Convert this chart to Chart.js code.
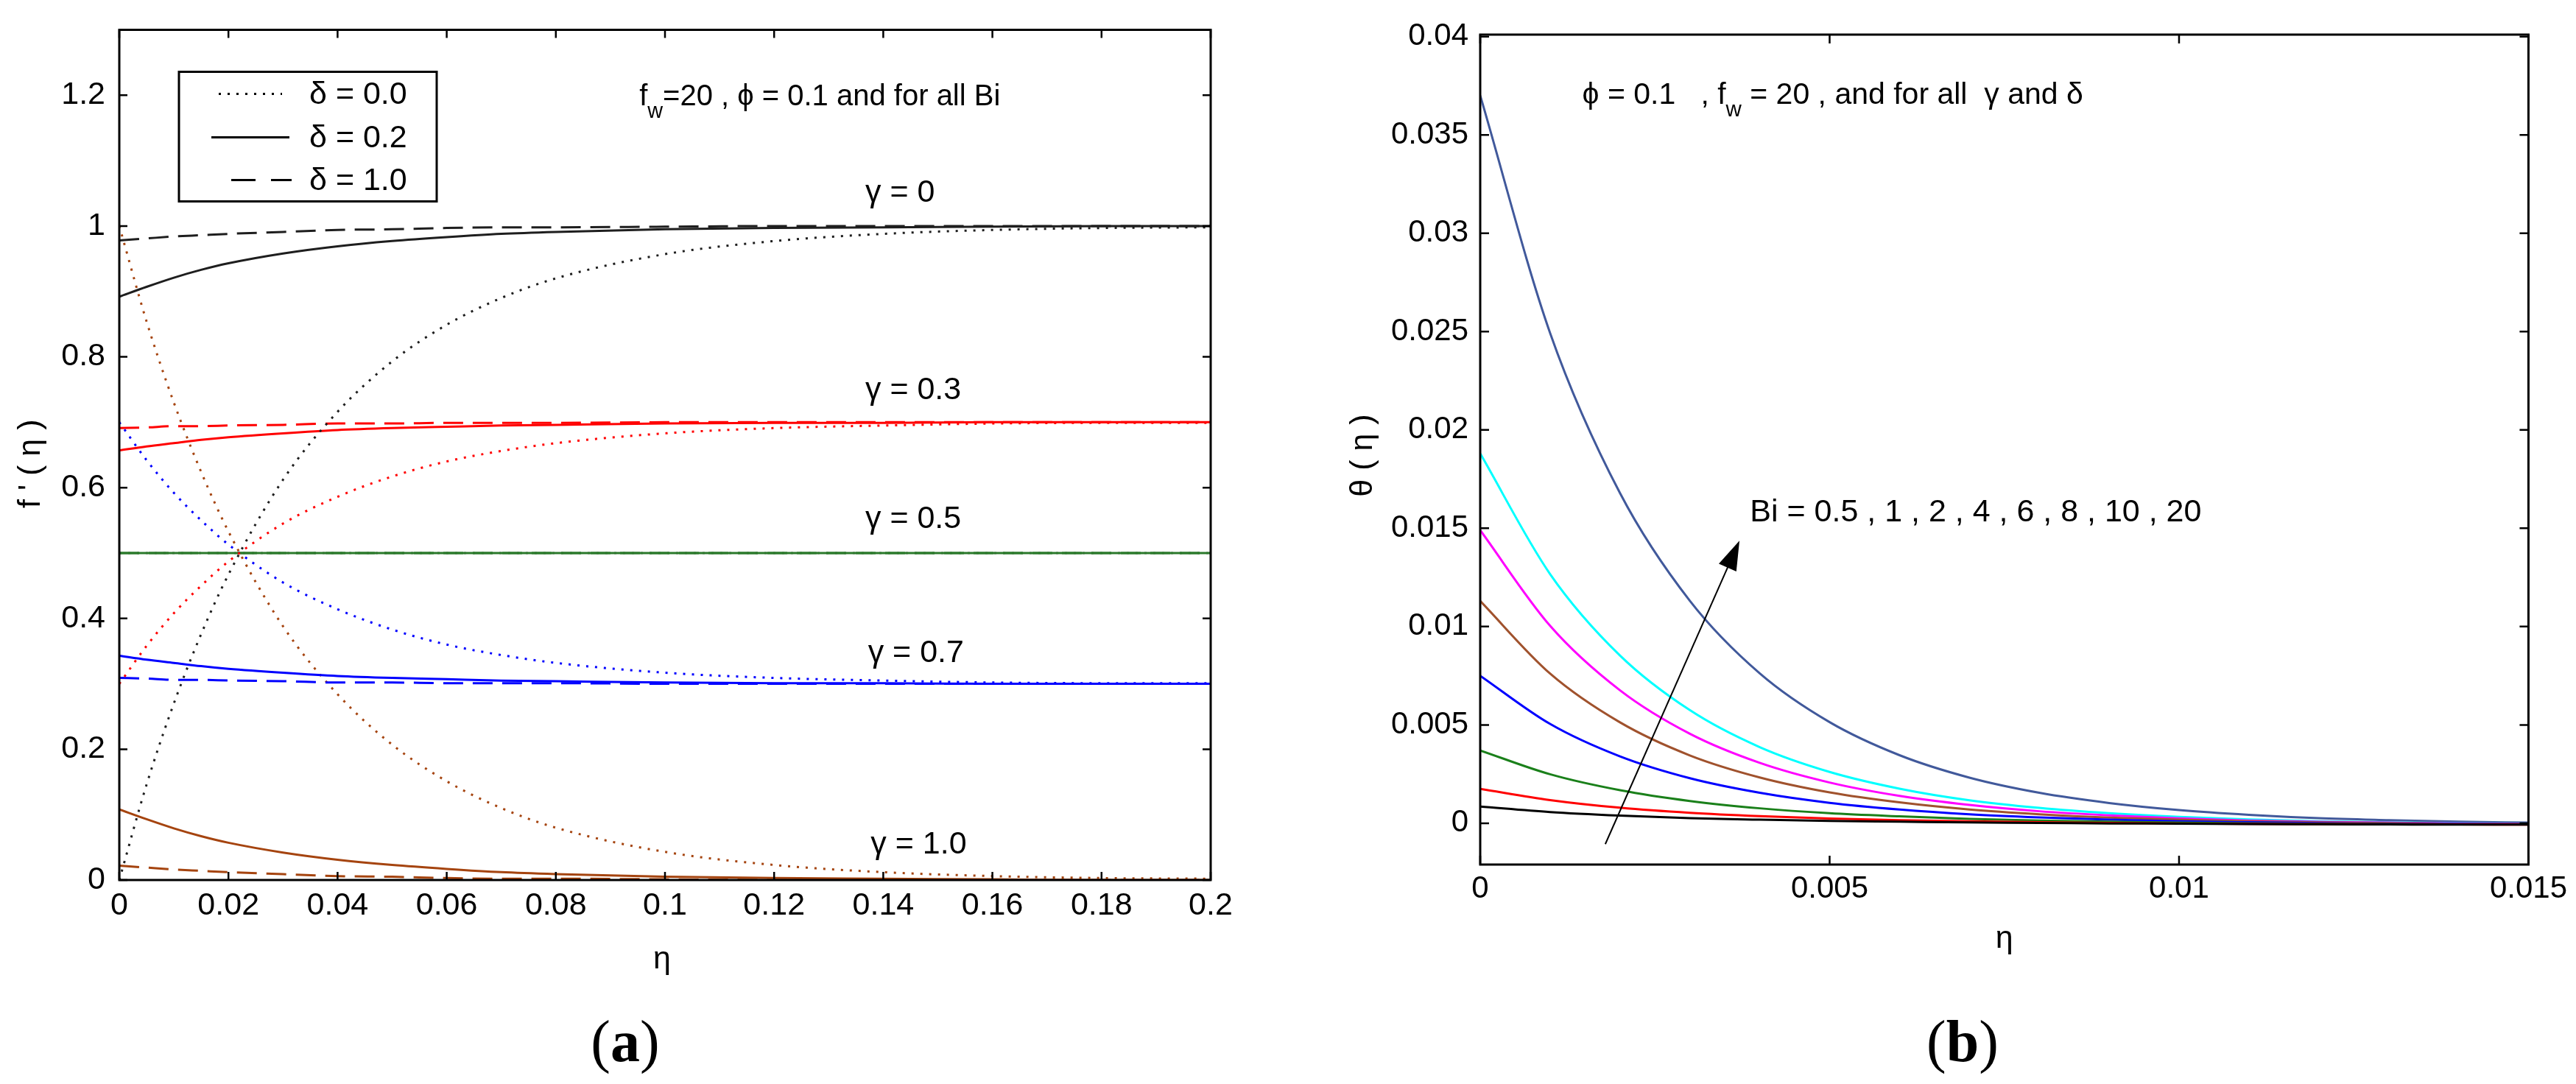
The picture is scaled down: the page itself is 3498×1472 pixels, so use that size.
<!DOCTYPE html>
<html>
<head>
<meta charset="utf-8">
<script src="https://cdn.jsdelivr.net/npm/chart.js@4.4.1/dist/chart.umd.min.js"></script>
<style>
  html, body { margin: 0; padding: 0; background: #fff; width: 3498px; height: 1472px; overflow: hidden; }
  canvas { position: absolute; top: 0; }
  .cap { position: absolute; top: 1374px; font-family: "Liberation Serif", "Times New Roman", serif; font-size: 80px; line-height: 80px; transform: translateX(-50%); color: #000; }
</style>
</head>
<body>
<canvas id="chartA" width="1760" height="1472" style="left:0px"></canvas>
<canvas id="chartB" width="1738" height="1472" style="left:1760px"></canvas>
<div class="cap" style="left:849px">(<b>a</b>)</div>
<div class="cap" style="left:2665px">(<b>b</b>)</div>
<script>
// ---------- panel (a): f'(eta) ----------
const etaA = [0, 0.005, 0.01, 0.015, 0.02, 0.03, 0.04, 0.05, 0.06, 0.07, 0.08, 0.1, 0.12, 0.14, 0.16, 0.18, 0.2];

// gamma = 0
const g0Delta00 = [0, 0.146, 0.27, 0.376, 0.467, 0.612, 0.716, 0.793, 0.849, 0.89, 0.92, 0.957, 0.977, 0.988, 0.994, 0.997, 0.998];
const g0Delta02 = [0.892, 0.907, 0.921, 0.933, 0.943, 0.958, 0.969, 0.977, 0.983, 0.988, 0.991, 0.995, 0.997, 0.998, 0.999, 1, 1];
const g0Delta10 = [0.978, 0.981, 0.984, 0.986, 0.988, 0.991, 0.994, 0.995, 0.997, 0.998, 0.998, 0.999, 1, 1, 1, 1, 1];
// gamma = 0.3
const g3Delta00 = [0.3, 0.358, 0.408, 0.45, 0.487, 0.545, 0.586, 0.617, 0.64, 0.656, 0.668, 0.683, 0.691, 0.695, 0.698, 0.699, 0.699];
const g3Delta02 = [0.657, 0.663, 0.668, 0.673, 0.677, 0.683, 0.688, 0.691, 0.693, 0.695, 0.696, 0.698, 0.699, 0.699, 0.7, 0.7, 0.7];
const g3Delta10 = [0.691, 0.692, 0.694, 0.694, 0.695, 0.696, 0.698, 0.698, 0.699, 0.699, 0.699, 0.7, 0.7, 0.7, 0.7, 0.7, 0.7];
// gamma = 0.5
const g5Delta00 = [0.5, 0.5, 0.5, 0.5, 0.5, 0.5, 0.5, 0.5, 0.5, 0.5, 0.5, 0.5, 0.5, 0.5, 0.5, 0.5, 0.5];
const g5Delta02 = [0.5, 0.5, 0.5, 0.5, 0.5, 0.5, 0.5, 0.5, 0.5, 0.5, 0.5, 0.5, 0.5, 0.5, 0.5, 0.5, 0.5];
const g5Delta10 = [0.5, 0.5, 0.5, 0.5, 0.5, 0.5, 0.5, 0.5, 0.5, 0.5, 0.5, 0.5, 0.5, 0.5, 0.5, 0.5, 0.5];
// gamma = 0.7
const g7Delta00 = [0.7, 0.642, 0.592, 0.55, 0.513, 0.455, 0.414, 0.383, 0.36, 0.344, 0.332, 0.317, 0.309, 0.305, 0.302, 0.301, 0.301];
const g7Delta02 = [0.343, 0.337, 0.332, 0.327, 0.323, 0.317, 0.312, 0.309, 0.307, 0.305, 0.304, 0.302, 0.301, 0.301, 0.3, 0.3, 0.3];
const g7Delta10 = [0.309, 0.308, 0.306, 0.306, 0.305, 0.304, 0.302, 0.302, 0.301, 0.301, 0.301, 0.3, 0.3, 0.3, 0.3, 0.3, 0.3];
// gamma = 1.0
const g10Delta00 = [1, 0.854, 0.73, 0.624, 0.533, 0.388, 0.284, 0.207, 0.151, 0.11, 0.08, 0.043, 0.023, 0.012, 0.006, 0.003, 0.002];
const g10Delta02 = [0.108, 0.093, 0.079, 0.067, 0.057, 0.042, 0.031, 0.023, 0.017, 0.012, 0.009, 0.005, 0.003, 0.002, 0.001, 0, 0];
const g10Delta10 = [0.022, 0.019, 0.016, 0.014, 0.012, 0.009, 0.006, 0.005, 0.003, 0.002, 0.002, 0.001, 0, 0, 0, 0, 0];

const xTicksA = [0, 0.02, 0.04, 0.06, 0.08, 0.1, 0.12, 0.14, 0.16, 0.18, 0.2];
const xTickLabelsA = ['0', '0.02', '0.04', '0.06', '0.08', '0.1', '0.12', '0.14', '0.16', '0.18', '0.2'];
const yTicksA = [0, 0.2, 0.4, 0.6, 0.8, 1, 1.2];
const yTickLabelsA = ['0', '0.2', '0.4', '0.6', '0.8', '1', '1.2'];
const gammaLabels = ['γ = 0', 'γ = 0.3', 'γ = 0.5', 'γ = 0.7', 'γ = 1.0'];
const deltaLabels = ['δ = 0.0', 'δ = 0.2', 'δ = 1.0'];

// ---------- panel (b): theta(eta) ----------
const etaB = [0, 0.001, 0.002, 0.003, 0.004, 0.005, 0.006, 0.007, 0.008, 0.009, 0.01, 0.011, 0.012, 0.013, 0.014, 0.015];
const thetaBi05 = [0.00085, 0.00057, 0.00039, 0.00026, 0.00018, 0.00012, 0.00008, 0.00004, 0.00002, -0.00001, -0.00002, -0.00004, -0.00005, -0.00006, -0.00007, -0.00007];
const thetaBi1  = [0.00175, 0.00118, 0.00079, 0.00053, 0.00036, 0.00024, 0.00016, 0.0001, 0.00005, 0.00002, -0.00001, -0.00003, -0.00004, -0.00005, -0.00006, -0.00007];
const thetaBi2  = [0.0037, 0.00249, 0.00168, 0.00113, 0.00076, 0.00051, 0.00035, 0.00022, 0.00014, 0.00008, 0.00003, 0, -0.00003, -0.00004, -0.00006, -0.00006];
const thetaBi4  = [0.0075, 0.00505, 0.0034, 0.00229, 0.00155, 0.00104, 0.0007, 0.00046, 0.0003, 0.00018, 0.0001, 0.00005, 0.00001, -0.00002, -0.00004, -0.00005];
const thetaBi6  = [0.0113, 0.00761, 0.00513, 0.00345, 0.00233, 0.00157, 0.00106, 0.0007, 0.00046, 0.00029, 0.00018, 0.0001, 0.00004, 0.00001, -0.00003, -0.00004];
const thetaBi8  = [0.0149, 0.01004, 0.00676, 0.00455, 0.00307, 0.00207, 0.00139, 0.00093, 0.00061, 0.0004, 0.00025, 0.00014, 0.00007, 0.00003, -0.00001, -0.00003];
const thetaBi10 = [0.0188, 0.01267, 0.00853, 0.00575, 0.00387, 0.00261, 0.00176, 0.00117, 0.00078, 0.00051, 0.00032, 0.00019, 0.0001, 0.00005, 0, -0.00002];
const thetaBi20 = [0.037, 0.02493, 0.01679, 0.01131, 0.00762, 0.00514, 0.00346, 0.00232, 0.00155, 0.00103, 0.00067, 0.00043, 0.00026, 0.00016, 0.00008, 0.00003];

const xTicksB = [0, 0.005, 0.01, 0.015];
const xTickLabelsB = ['0', '0.005', '0.01', '0.015'];
const yTicksB = [0, 0.005, 0.01, 0.015, 0.02, 0.025, 0.03, 0.035, 0.04];
const yTickLabelsB = ['0', '0.005', '0.01', '0.015', '0.02', '0.025', '0.03', '0.035', '0.04'];

const FONT = '"Liberation Sans", Arial, Helvetica, sans-serif';
const DOT = [3, 9];
const DASH = [27, 13];

function pts(xs, ys) {
  return xs.map((x, i) => ({ x: x, y: ys[i] }));
}

function line(xs, ys, color, dash) {
  return {
    data: pts(xs, ys),
    borderColor: color,
    borderWidth: 3,
    borderDash: dash || [],
    pointRadius: 0,
    fill: false,
    cubicInterpolationMode: 'monotone'
  };
}

// text with an optional subscript part
function richText(ctx, parts, x, y, size) {
  let cx = x;
  ctx.textAlign = 'left';
  ctx.textBaseline = 'middle';
  parts.forEach(p => {
    const s = p.sub ? size * 0.72 : size;
    ctx.font = s + 'px ' + FONT;
    ctx.fillText(p.t, cx, p.sub ? y + size * 0.5 : y);
    cx += ctx.measureText(p.t).width;
  });
}

function decor(spec) {
  return {
    id: 'decor',
    afterDraw(chart) {
      const { ctx, chartArea: a, scales } = chart;
      const sx = scales.x, sy = scales.y;
      ctx.save();
      ctx.strokeStyle = '#000';
      ctx.fillStyle = '#000';
      ctx.lineWidth = 3;
      ctx.strokeRect(a.left, a.top, a.right - a.left, a.bottom - a.top);

      // ticks drawn inward on all four sides
      ctx.lineWidth = 2.5;
      ctx.beginPath();
      spec.xTicks.forEach(v => {
        const px = sx.getPixelForValue(v);
        ctx.moveTo(px, a.bottom); ctx.lineTo(px, a.bottom - spec.tick);
        ctx.moveTo(px, a.top); ctx.lineTo(px, a.top + spec.tick);
      });
      spec.yTicks.forEach(v => {
        const py = sy.getPixelForValue(v);
        ctx.moveTo(a.left, py); ctx.lineTo(a.left + spec.tick, py);
        ctx.moveTo(a.right, py); ctx.lineTo(a.right - spec.tick, py);
      });
      ctx.stroke();

      // axis titles
      ctx.font = spec.titleSize + 'px ' + FONT;
      ctx.textAlign = 'center';
      ctx.textBaseline = 'alphabetic';
      ctx.fillText(spec.xTitle, (a.left + a.right) / 2 + spec.xTitleDx, a.bottom + spec.xTitleDy);
      ctx.save();
      ctx.translate(spec.yTitleX, (a.top + a.bottom) / 2 + spec.yTitleDy);
      ctx.rotate(-Math.PI / 2);
      ctx.textBaseline = 'middle';
      ctx.fillText(spec.yTitle, 0, 0);
      ctx.restore();

      spec.extra(ctx, chart, sx, sy, a);
      ctx.restore();
    }
  };
}

function axes(xMin, xMax, yMin, yMax, xT, xL, yT, yL, yWidth, xHeight, tickSize, xPad, yPad) {
  return {
    x: {
      type: 'linear', min: xMin, max: xMax,
      afterBuildTicks: s => { s.ticks = xT.map(v => ({ value: v })); },
      afterFit: s => { s.height = xHeight; },
      grid: { display: false, drawTicks: false },
      border: { display: false },
      ticks: {
        autoSkip: false, maxRotation: 0, minRotation: 0, padding: xPad,
        color: '#000', font: { family: FONT, size: tickSize, lineHeight: 1 },
        callback: (v, i) => xL[i]
      }
    },
    y: {
      type: 'linear', min: yMin, max: yMax,
      afterBuildTicks: s => { s.ticks = yT.map(v => ({ value: v })); },
      afterFit: s => { s.width = yWidth; },
      grid: { display: false, drawTicks: false },
      border: { display: false },
      ticks: {
        autoSkip: false, padding: yPad,
        color: '#000', font: { family: FONT, size: tickSize, lineHeight: 1 },
        callback: (v, i) => yL[i]
      }
    }
  };
}

// ---- chart (a)
const BLACK = '#1e1e1e', RED = '#ff0000', GREEN = '#2b7a2b', GREY = '#808080', BLUE = '#0000ff', BROWN = '#a5440f';

const dataA = [
  line(etaA, g0Delta02, BLACK), line(etaA, g0Delta10, BLACK, DASH), line(etaA, g0Delta00, BLACK, DOT),
  line(etaA, g3Delta02, RED), line(etaA, g3Delta10, RED, DASH), line(etaA, g3Delta00, RED, DOT),
  line(etaA, g5Delta02, GREEN), line(etaA, g5Delta10, GREEN, DASH), line(etaA, g5Delta00, GREY, DOT),
  line(etaA, g7Delta02, BLUE), line(etaA, g7Delta10, BLUE, DASH), line(etaA, g7Delta00, BLUE, DOT),
  line(etaA, g10Delta02, BROWN), line(etaA, g10Delta10, BROWN, DASH), line(etaA, g10Delta00, BROWN, DOT)
];

const gammaPos = [[0.1367, 1.05], [0.1367, 0.749], [0.1367, 0.552], [0.1372, 0.347], [0.1377, 0.054]];

new Chart(document.getElementById('chartA'), {
  type: 'line',
  data: { datasets: dataA },
  options: {
    responsive: false, animation: false, devicePixelRatio: 1,
    layout: { padding: { left: 0, top: 26, right: 116, bottom: 197 } },
    plugins: { legend: { display: false }, tooltip: { enabled: false } },
    scales: axes(0, 0.2, 0, 1.3, xTicksA, xTickLabelsA, yTicksA, yTickLabelsA, 162, 80, 43, 14, 19)
  },
  plugins: [decor({
    xTicks: xTicksA, yTicks: yTicksA, tick: 11,
    xTitle: 'η', xTitleDx: -4, xTitleDy: 120,
    yTitle: "f ' ( η )", yTitleX: 42, yTitleDy: 12, titleSize: 43,
    extra(ctx, chart, sx, sy, a) {
      // legend box
      const bx = a.left + 81, by = a.top + 57;
      ctx.lineWidth = 3;
      ctx.strokeStyle = '#000';
      ctx.strokeRect(bx, by, 350, 176);
      const rows = [by + 30, by + 89, by + 147];
      const samples = [[bx + 54, bx + 140, [3, 9]], [bx + 44, bx + 150, []], [bx + 71, bx + 153, [33, 21]]];
      samples.forEach((s, i) => {
        ctx.setLineDash(s[2]);
        ctx.beginPath();
        ctx.moveTo(s[0], rows[i]);
        ctx.lineTo(s[1], rows[i]);
        ctx.stroke();
      });
      ctx.setLineDash([]);
      ctx.font = '43px ' + FONT;
      ctx.textAlign = 'left';
      ctx.textBaseline = 'middle';
      deltaLabels.forEach((t, i) => ctx.fillText(t, bx + 177, rows[i] + 2));

      // gamma labels
      gammaLabels.forEach((t, i) => {
        ctx.fillText(t, sx.getPixelForValue(gammaPos[i][0]), sy.getPixelForValue(gammaPos[i][1]));
      });

      // parameter note
      richText(ctx, [{ t: 'f' }, { t: 'w', sub: true }, { t: '=20 , ϕ = 0.1 and for all Bi' }],
        sx.getPixelForValue(0.0953), sy.getPixelForValue(1.197), 40);
    }
  })]
});

// ---- chart (b)
const dataB = [
  line(etaB, thetaBi05, '#000000'),
  line(etaB, thetaBi1, '#ff0000'),
  line(etaB, thetaBi2, '#1a801a'),
  line(etaB, thetaBi4, '#0000ff'),
  line(etaB, thetaBi6, '#a0522d'),
  line(etaB, thetaBi8, '#ff00ff'),
  line(etaB, thetaBi10, '#00ffff'),
  line(etaB, thetaBi20, '#41599b')
];

new Chart(document.getElementById('chartB'), {
  type: 'line',
  data: { datasets: dataB },
  options: {
    responsive: false, animation: false, devicePixelRatio: 1,
    layout: { padding: { left: 0, top: 47, right: 61, bottom: 218 } },
    plugins: { legend: { display: false }, tooltip: { enabled: false } },
    scales: axes(0, 0.015, -0.0021, 0.0401, xTicksB, xTickLabelsB, yTicksB, yTickLabelsB, 250, 80, 42, 12, 16)
  },
  plugins: [decor({
    xTicks: xTicksB, yTicks: yTicksB, tick: 12,
    xTitle: 'η', xTitleDx: 0, xTitleDy: 113,
    yTitle: 'θ ( η )', yTitleX: 91, yTitleDy: 8, titleSize: 43,
    extra(ctx, chart, sx, sy, a) {
      richText(ctx, [{ t: 'ϕ = 0.1   , f' }, { t: 'w', sub: true }, { t: ' = 20 , and for all  γ and δ' }],
        sx.getPixelForValue(0.00146), sy.getPixelForValue(0.037), 41);
      richText(ctx, [{ t: 'Bi = 0.5 , 1 , 2 , 4 , 6 , 8 , 10 , 20' }],
        sx.getPixelForValue(0.00386), sy.getPixelForValue(0.01579), 43);

      // arrow through the curves
      const x1 = sx.getPixelForValue(0.00179), y1 = sy.getPixelForValue(-0.00106);
      const x2 = sx.getPixelForValue(0.00371), y2 = sy.getPixelForValue(0.01437);
      const ang = Math.atan2(y2 - y1, x2 - x1);
      ctx.lineWidth = 2;
      ctx.strokeStyle = '#000';
      ctx.beginPath();
      ctx.moveTo(x1, y1);
      ctx.lineTo(x2 - 30 * Math.cos(ang), y2 - 30 * Math.sin(ang));
      ctx.stroke();
      ctx.beginPath();
      ctx.moveTo(x2, y2);
      ctx.lineTo(x2 - 40 * Math.cos(ang) + 13 * Math.sin(ang), y2 - 40 * Math.sin(ang) - 13 * Math.cos(ang));
      ctx.lineTo(x2 - 40 * Math.cos(ang) - 13 * Math.sin(ang), y2 - 40 * Math.sin(ang) + 13 * Math.cos(ang));
      ctx.closePath();
      ctx.fill();
    }
  })]
});
</script>
</body>
</html>
